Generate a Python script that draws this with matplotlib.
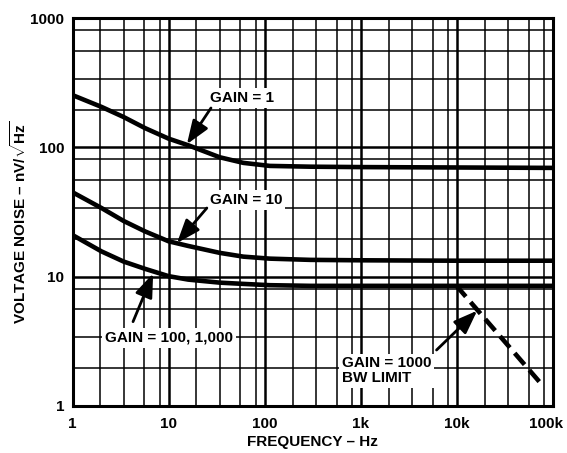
import numpy as np
import matplotlib
matplotlib.use("Agg")
import matplotlib.pyplot as plt
import matplotlib.transforms as mtransforms
from matplotlib.ticker import FixedLocator, NullFormatter

plt.rcParams['font.family'] = ['Liberation Sans', 'DejaVu Sans']
plt.rcParams['font.weight'] = 'bold'
plt.rcParams['mathtext.fontset'] = 'custom'
plt.rcParams['mathtext.rm'] = 'Liberation Sans:bold'
plt.rcParams['mathtext.bf'] = 'Liberation Sans:bold'

# noise curves
freq = [1, 2, 3.4, 5.7, 10, 16, 34, 60, 113, 300, 1000, 10000, 100000]
gain1 = [254, 206, 172, 141, 117, 104, 84, 76, 72, 71, 70.5, 70, 69.5]
gain10 = [45, 34, 27, 22.4, 18.8, 17.3, 15.3, 14.3, 13.8, 13.5, 13.4, 13.3, 13.3]
gain100 = [21, 15.7, 13.1, 11.5, 10.1, 9.5, 9.0, 8.8, 8.6, 8.5, 8.5, 8.5, 8.5]

# bandwidth limit (gain 1000)
freq_bw = [9800, 73000]
noise_bw = [8.6, 1.53]

xticks = [1, 10, 100, 1000, 10000, 100000]
xlabels = ["1", "10", "100", "1k", "10k", "100k"]
yticks = [1, 10, 100, 1000]
ylabels = ["1", "10", "100", "1000"]

# the grid is not the usual 2..9 one, only four lines per decade
grid_mult = [1.95, 3.4, 5.6, 8.1]

fig = plt.figure(figsize=(5.67, 4.53), dpi=100)
ax = fig.add_axes([0.128, 0.1038, 0.847, 0.856])

ax.set_xscale("log")
ax.set_yscale("log")
ax.set_xlim(1, 100000)
ax.set_ylim(1, 1000)

xminor = [m * d for d in xticks[:-1] for m in grid_mult]
yminor = [m * d for d in yticks[:-1] for m in grid_mult]
ax.xaxis.set_major_locator(FixedLocator(xticks))
ax.yaxis.set_major_locator(FixedLocator(yticks))
ax.xaxis.set_minor_locator(FixedLocator(xminor))
ax.yaxis.set_minor_locator(FixedLocator(yminor))
ax.xaxis.set_minor_formatter(NullFormatter())
ax.yaxis.set_minor_formatter(NullFormatter())
ax.set_xticklabels(xlabels)
ax.set_yticklabels(ylabels)
ax.tick_params(which="both", length=0)
ax.tick_params(axis="x", pad=8, labelsize=11)
ax.tick_params(axis="y", pad=6, labelsize=11)

# last x label sits a bit inside so it is not cut at the edge
last = ax.get_xticklabels()[-1]
last.set_transform(last.get_transform() +
                   mtransforms.ScaledTranslation(-5 / 72, 0, fig.dpi_scale_trans))

ax.grid(which="major", color="k", lw=1.8, zorder=1)
ax.grid(which="minor", color="k", lw=1.1, zorder=1)
for s in ax.spines.values():
    s.set_linewidth(2.2)

ax.plot(freq, gain1, color="k", lw=3.3, zorder=3, solid_capstyle="butt")
ax.plot(freq, gain10, color="k", lw=3.3, zorder=3, solid_capstyle="butt")
ax.plot(freq, gain100, color="k", lw=3.3, zorder=3, solid_capstyle="butt")
ax.plot(freq_bw, noise_bw, color="k", lw=3.3, ls=(0, (3.3, 1.6)), zorder=3)

box = dict(facecolor="white", edgecolor="none", pad=2)
arrow = dict(arrowstyle="-|>,head_length=0.8,head_width=0.3", color="k",
             lw=2, mutation_scale=18, shrinkA=0, shrinkB=0)

ax.text(58, 241, "GAIN = 1", ha="center", va="center", fontsize=11,
        fontweight="bold", bbox=box, zorder=4)
ax.annotate("", xy=(15.5, 106), xytext=(27.6, 202), arrowprops=arrow, zorder=5)

ax.text(64, 39.2, "GAIN = 10", ha="center", va="center", fontsize=11,
        fontweight="bold", bbox=box, zorder=4)
ax.annotate("", xy=(12.2, 18.2), xytext=(25, 34), arrowprops=arrow, zorder=5)

ax.text(10.1, 3.36, "GAIN = 100, 1,000", ha="center", va="center", fontsize=11,
        fontweight="bold", bbox=box, zorder=4)
ax.annotate("", xy=(6.9, 10.6), xytext=(4.26, 4.49), arrowprops=arrow, zorder=5)

ax.text(632, 1.87, "GAIN = 1000\nBW LIMIT", ha="left", va="center", fontsize=11,
        fontweight="bold", linespacing=1.1, bbox=box, zorder=4)
ax.annotate("", xy=(16300, 5.46), xytext=(6160, 2.71), arrowprops=arrow, zorder=5)

ax.set_xlabel("FREQUENCY – Hz", fontsize=11, fontweight="bold", labelpad=3)
ax.set_ylabel(r"VOLTAGE NOISE – nV/$\sqrt{\mathbf{Hz}}$", fontsize=11,
              fontweight="bold")
ax.yaxis.set_label_coords(-0.09, 0.472)

fig.savefig("out.png", dpi=100)
